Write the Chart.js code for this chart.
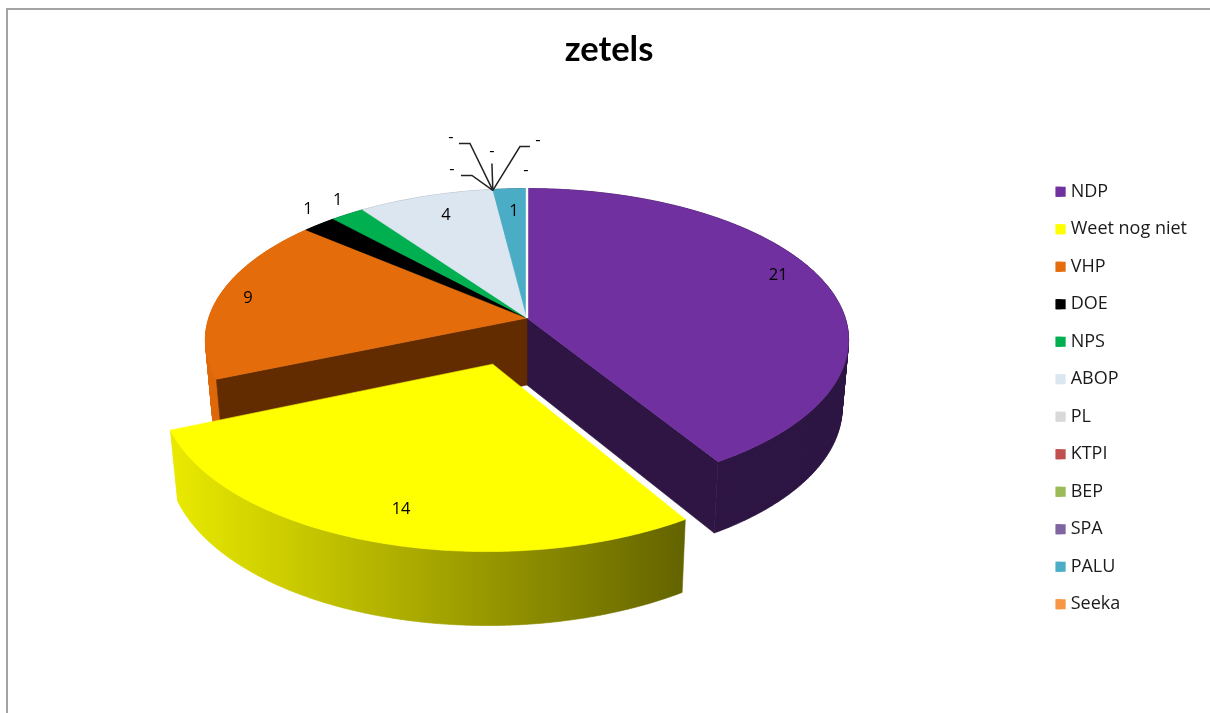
<!DOCTYPE html>
<html>
<head>
<meta charset="utf-8">
<style>html,body{margin:0;padding:0;background:#fff;overflow:hidden}canvas{display:block;filter:blur(0.45px)}</style>
<script src="https://cdn.jsdelivr.net/npm/chart.js@4/dist/chart.umd.min.js"></script>
</head>
<body>
<canvas id="c" width="1210" height="713"></canvas>
<script>
const categories = ['NDP','Weet nog niet','VHP','DOE','NPS','ABOP','PL','KTPI','BEP','SPA','PALU','Seeka'];
const seats = [21,14,9,1,1,4,0,0,0,0,1,0];
const sliceColours = ['#7030A0','#FFFF00','#E46C0A','#000000','#00B050','#DCE6F1','#D9D9D9','#C0504D','#9BBB59','#8064A2','#4BACC6','#F79646'];
const explode = [0,40,0,0,0,0,0,0,0,0,0,0];

const TITLE_FONT = 'Lato, sans-serif';
const TEXT_FONT = '"Open Sans", sans-serif';

const pie3d = {
  id: 'pie3d',
  beforeDraw(chart) {
    const ctx = chart.ctx;
    ctx.save();
    ctx.fillStyle = '#fff';
    ctx.fillRect(0, 0, chart.width, chart.height);
    ctx.strokeStyle = '#A3A3A3';
    ctx.lineWidth = 2;
    ctx.beginPath();
    ctx.moveTo(7, chart.height + 5);
    ctx.lineTo(7, 9);
    ctx.lineTo(chart.width + 5, 9);
    ctx.stroke();
    ctx.restore();
  },
  beforeDatasetsDraw(chart, args, o) {
    const ctx = chart.ctx;
    const arcs = chart.getDatasetMeta(0).data;
    const ds = chart.data.datasets[0];
    const project = (u, v, bottom) => {
      const d = 1 - o.k * v;
      const a = bottom ? o.rx * o.bottomX : o.rx;
      const b = bottom ? o.ry * o.bottomY : o.ry;
      const cy = bottom ? o.cy + o.depth : o.cy;
      return [o.cx + a * u / d, cy + b * v / d];
    };
    const isOut = i => !!ds.offset[i];
    const shift = i => {
      const el = arcs[i];
      if (!isOut(i)) return [0, 0];
      const m = (el.startAngle + el.endAngle) / 2;
      const s = ds.offset[i] / 40 * o.explode;
      return [Math.cos(m) * s + o.skew[0], Math.sin(m) * s + o.skew[1]];
    };
    const radius = i => isOut(i) ? o.outRadius : 1;
    const arcPts = (i, bottom) => {
      const el = arcs[i], [sx, sy] = shift(i), r = radius(i), pts = [];
      const n = Math.max(2, Math.ceil((el.endAngle - el.startAngle) / 0.01));
      for (let j = 0; j <= n; j++) {
        const t = el.startAngle + (el.endAngle - el.startAngle) * j / n;
        pts.push(project(r * Math.cos(t) + sx, r * Math.sin(t) + sy, bottom));
      }
      return pts;
    };
    const paint = colour => {
      ctx.fillStyle = colour;
      ctx.strokeStyle = colour;
      ctx.lineWidth = 0.6;
      ctx.fill();
      ctx.stroke();
    };
    const fillPoly = (pts, colour) => {
      ctx.beginPath();
      pts.forEach((p, j) => j ? ctx.lineTo(p[0], p[1]) : ctx.moveTo(p[0], p[1]));
      ctx.closePath();
      paint(colour);
    };
    const wall = (i, angle, colour) => {
      const [sx, sy] = shift(i);
      const c = Math.cos(angle) + sx, s = Math.sin(angle) + sy;
      fillPoly([project(sx, sy, false), project(c, s, false), project(c, s, true), project(sx, sy, true)], colour);
    };
    const rim = (i, colour) => {
      const top = arcPts(i, false), bot = arcPts(i, true);
      ctx.beginPath();
      for (let j = 0; j < top.length - 1; j++) {
        ctx.moveTo(top[j][0], top[j][1]);
        ctx.lineTo(top[j + 1][0], top[j + 1][1]);
        ctx.lineTo(bot[j + 1][0], bot[j + 1][1]);
        ctx.lineTo(bot[j][0], bot[j][1]);
        ctx.closePath();
      }
      paint(colour);
    };
    const topFace = i => {
      const [sx, sy] = shift(i);
      fillPoly([project(sx, sy, false)].concat(arcPts(i, false)), ds.backgroundColor[i]);
    };
    const order = arcs.map((e, i) => i).filter(i => seats[i] > 0);
    const flat = order.filter(i => !isOut(i));
    const out = order.filter(i => isOut(i));

    ctx.save();
    // only the walls beside the pulled-out slice can be seen
    flat.forEach(i => rim(i, o.rim[i]));
    order.forEach((i, n) => {
      if (isOut(i)) return;
      if (isOut(order[(n + 1) % order.length])) wall(i, arcs[i].endAngle, o.wall[i]);
      if (isOut(order[(n - 1 + order.length) % order.length])) wall(i, arcs[i].startAngle, o.wall[i]);
    });
    flat.forEach(topFace);

    arcs.forEach((el, i) => {
      if (i === arcs.length - 1 && seats[i] === 0) {
        const a = project(0, 0, false), b = project(Math.cos(el.startAngle), Math.sin(el.startAngle), false);
        ctx.beginPath();
        ctx.moveTo(a[0], a[1]);
        ctx.lineTo(b[0], b[1] - 1);
        ctx.strokeStyle = '#fff';
        ctx.lineWidth = 2.4;
        ctx.stroke();
      }
    });

    out.forEach(i => {
      const g = ctx.createLinearGradient(o.gradFrom, 0, o.gradTo, 0);
      g.addColorStop(0, '#EAEA00');
      g.addColorStop(1, '#626200');
      rim(i, g);
      topFace(i);
    });

    // data labels and leader lines
    ctx.font = o.labelFont;
    ctx.textAlign = 'center';
    ctx.textBaseline = 'middle';
    arcs.forEach((el, i) => {
      const m = (el.startAngle + el.endAngle) / 2;
      const [sx, sy] = shift(i);
      const a = project(Math.cos(m) * 0.8 + sx, Math.sin(m) * 0.8 + sy, false);
      const lx = a[0] + o.nudge[i][0], ly = a[1] + o.nudge[i][1];
      const lead = o.leaders[i];
      if (lead) {
        const tip = project(Math.cos(el.startAngle), Math.sin(el.startAngle), false);
        ctx.beginPath();
        ctx.moveTo(tip[0], tip[1] + 1);
        lead.forEach(p => ctx.lineTo(lx + p[0], ly + p[1]));
        ctx.strokeStyle = '#222';
        ctx.lineWidth = 1.5;
        ctx.stroke();
      }
      ctx.fillStyle = '#000';
      ctx.fillText(seats[i] === 0 ? '-' : String(seats[i]), lx, ly);
    });
    ctx.restore();
    return false;
  },
  afterDraw(chart, args, o) {
    // legend keys: square markers over the library's key positions
    const ctx = chart.ctx;
    const boxes = chart.legend.legendHitBoxes;
    ctx.save();
    boxes.forEach((b, i) => {
      ctx.fillStyle = sliceColours[i];
      ctx.fillRect(b.left, b.top + b.height / 2 - o.keySize / 2, o.keySize, o.keySize);
    });
    ctx.restore();
  }
};

new Chart(document.getElementById('c'), {
  type: 'pie',
  data: {
    labels: categories,
    datasets: [{ data: seats, backgroundColor: sliceColours, borderWidth: 0, offset: explode }]
  },
  plugins: [pie3d],
  options: {
    responsive: false,
    animation: false,
    rotation: 0,
    layout: { padding: { left: 21, right: 13, top: 29, bottom: -54 } },
    plugins: {
      tooltip: { enabled: false },
      title: {
        display: true,
        text: 'zetels',
        color: '#000',
        font: { family: TITLE_FONT, size: 34.5, weight: 'bold' },
        padding: { top: 0, bottom: 22 }
      },
      legend: {
        position: 'right',
        labels: {
          boxWidth: 6,
          boxHeight: 10,
          padding: 19.5,
          color: '#1a1a1a',
          font: { family: TEXT_FONT, size: 18 }
        }
      },
      pie3d: {
        cx: 527, cy: 318, rx: 318.2, ry: 148.2, k: 0.145,
        depth: 67, bottomX: 0.98, bottomY: 1.03,
        explode: 0.3, skew: [-0.012, 0.012], outRadius: 0.985,
        gradFrom: 170, gradTo: 690, keySize: 10,
        labelFont: '16.5px ' + TEXT_FONT,
        wall: ['#2E1543','#626200','#622C00','#000','#006030','#8A9099','#888','#888','#888','#888','#25606F','#888'],
        rim: ['#2E1543','#626200','#DD680A','#000','#006030','#8A9099','#888','#888','#888','#888','#25606F','#888'],
        nudge: [[14,-11],[4,6],[-32,-2],[-50,-32],[-43,-33],[2,-3],[-47,-43],[-48,-75],[-7,-61],[39,-72],[1,-1],[-1,-41]],
        leaders: [null,null,null,null,null,null,
          [[20,6],[9,6]],
          [[19,6],[8,6]],
          [[0,12]],
          [[-18,6],[-8,6]],
          null,null]
      }
    }
  }
});
</script>
</body>
</html>
